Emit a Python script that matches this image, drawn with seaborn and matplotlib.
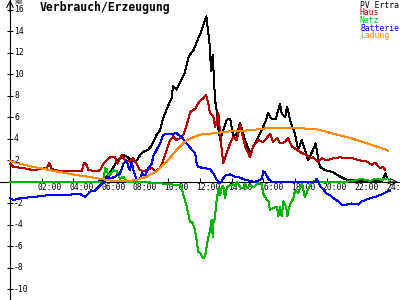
import numpy as np
import pandas as pd
import matplotlib
matplotlib.use("Agg")
import matplotlib.pyplot as plt
import seaborn as sns

# ---------------- data (hours, kW) ----------------
pv_t = [0.0, 5.5, 5.9, 6.3, 6.7, 7.15, 7.45, 7.68, 8.0, 8.21, 8.4, 8.72, 8.95, 9.26, 9.48, 9.64,
        9.9, 10.2, 10.3, 10.5, 11.0, 11.3, 11.6, 11.9, 12.0, 12.4, 12.6, 12.7, 12.8, 12.95, 13.05,
        13.15, 13.27, 13.43, 13.7, 13.9, 14.1, 14.33, 14.53, 14.84, 15.16, 15.48, 15.79, 16.1, 16.3,
        16.5, 16.8, 17.05, 17.15, 17.37, 17.5, 17.73, 18.0, 18.2, 18.43, 18.63, 18.82, 19.14, 19.3,
        19.4, 19.58, 19.9, 20.4, 20.85, 21.27, 22.0, 23.0, 23.5, 23.7, 23.8]
pv_v = [0.0, 0.0, 0.2, 0.8, 1.8, 2.5, 2.3, 1.9, 2.0, 2.5, 2.8, 3.0, 3.4, 4.4, 4.8, 5.8,
        6.8, 7.8, 8.9, 8.6, 10.0, 11.7, 12.3, 13.4, 13.7, 15.4, 12.9, 10.3, 11.8, 7.6, 6.7,
        5.1, 3.9, 4.7, 5.8, 5.9, 4.2, 4.5, 5.5, 3.9, 2.7, 3.6, 4.5, 5.5, 6.4,
        5.9, 5.9, 7.3, 6.4, 6.0, 7.0, 5.5, 4.5, 3.0, 3.9, 3.0, 2.0, 3.0, 3.6,
        2.7, 1.4, 1.1, 0.9, 0.5, 0.2, 0.1, 0.05, 0.1, 0.8, 0.4]

haus_t = [0.0, 0.21, 0.84, 1.45, 2.32, 2.48, 2.63, 3.16, 4.0, 4.53, 4.67, 4.8, 4.95, 5.48, 5.69,
          5.9, 6.11, 6.32, 6.63, 6.78, 6.95, 7.06, 7.26, 7.58, 7.77, 8.0, 8.21, 8.42, 8.64, 8.95,
          9.16, 9.48, 9.68, 9.9, 10.1, 10.32, 10.53, 10.74, 10.95, 11.16, 11.37, 11.69, 11.96,
          12.21, 12.38, 12.53, 12.63, 12.84, 12.95, 13.16, 13.27, 13.37, 13.47, 13.69, 13.9,
          14.09, 14.32, 14.53, 14.85, 15.16, 15.35, 15.67, 15.98, 16.22, 16.42, 16.61, 16.85,
          17.06, 17.37, 17.56, 17.8, 18.11, 18.43, 18.74, 18.95, 19.14, 19.46, 19.69, 20.0,
          20.4, 20.85, 21.27, 21.67, 22.1, 22.53, 22.85, 23.06, 23.37, 23.58, 23.69]
haus_v = [1.7, 1.4, 1.3, 1.1, 1.3, 1.8, 1.2, 1.0, 1.0, 1.0, 1.8, 1.7, 1.1, 1.0, 1.1,
          1.7, 2.0, 2.3, 2.3, 1.7, 2.2, 2.5, 2.0, 1.9, 2.2, 1.7, 1.1, 1.0, 1.1, 1.3,
          1.0, 1.3, 2.0, 3.0, 3.9, 4.2, 3.9, 4.1, 4.4, 5.3, 6.5, 6.8, 7.5,
          7.8, 8.1, 7.3, 6.4, 6.1, 5.1, 6.4, 4.5, 3.0, 1.8, 2.7, 3.6,
          4.2, 3.9, 5.3, 3.3, 2.3, 3.3, 3.9, 3.7, 4.1, 4.5, 3.7, 4.1,
          3.6, 3.7, 4.1, 3.3, 3.0, 2.7, 2.5, 2.2, 2.3, 1.9, 2.2, 2.0,
          2.2, 2.3, 2.2, 2.2, 2.0, 1.9, 1.6, 1.8, 1.3, 1.4, 1.1]

netz_t = [0.0, 5.6, 5.9, 6.0, 6.11, 6.21, 6.53, 6.74, 6.95, 7.16, 7.37, 8.5, 9.26, 10.1, 10.53,
          10.74, 10.85, 10.95, 11.05, 11.16, 11.37, 11.54, 11.69, 11.8, 11.9, 12.0, 12.2, 12.32,
          12.42, 12.53, 12.63, 12.74, 12.8, 12.84, 12.95, 13.01, 13.06, 13.16, 13.27, 13.37,
          13.47, 13.58, 13.69, 13.9, 14.1, 14.2, 14.33, 14.53, 14.74, 14.85, 14.95, 15.16, 15.37,
          15.69, 15.9, 16.0, 16.22, 16.32, 16.42, 16.63, 16.85, 16.95, 17.05, 17.16, 17.27, 17.44,
          17.52, 17.58, 17.69, 17.9, 18.0, 18.2, 18.43, 18.63, 18.85, 19.06, 19.27, 19.37, 19.48,
          20.0, 21.5, 22.2, 22.4, 22.8, 23.06, 23.5, 23.7, 24.0]
netz_v = [0.0, 0.0, 0.0, 1.3, 1.2, 0.5, 1.1, 1.0, 0.3, 0.5, 0.0, 0.0, -0.1, -0.2, -0.3,
          -0.3, -0.6, -1.2, -1.7, -2.3, -3.7, -3.8, -4.5, -5.6, -6.5, -6.6, -7.1, -6.9,
          -6.0, -5.1, -4.5, -3.5, -5.1, -3.8, -3.4, -2.0, -1.7, -0.6, -1.2, -0.5,
          -0.4, -1.5, -0.5, -0.3, -0.2, -0.4, 0.0, -0.5, -0.6, -0.2, -0.6, -0.3, -0.5,
          -0.1, -0.2, -1.1, -1.7, -1.8, -2.6, -2.4, -2.3, -3.2, -2.3, -3.2, -1.8, -2.3,
          -3.2, -2.6, -2.1, -1.5, -0.8, -1.0, -0.2, -1.4, -0.6, 0.0, 0.1, 0.3, 0.0,
          0.0, 0.05, 0.3, 0.2, 0.1, 0.3, 0.2, 0.3, 0.2]

batt_t = [0.0, 0.21, 0.63, 1.47, 2.53, 3.58, 4.42, 4.74, 5.05, 5.37, 5.69, 5.9, 6.21, 6.32, 6.63,
          6.95, 7.16, 7.37, 7.48, 7.58, 7.68, 7.79, 8.0, 8.21, 8.32, 8.53, 8.74, 8.95, 9.05, 9.26,
          9.48, 9.68, 10.0, 10.32, 10.48, 10.63, 10.85, 11.05, 11.26, 11.48, 11.69, 11.8, 11.9,
          12.21, 12.63, 12.84, 13.06, 13.27, 13.37, 13.58, 13.9, 14.2, 14.53, 14.85, 15.16, 15.48,
          15.9, 16.0, 16.1, 16.32, 16.53, 19.27, 19.37, 19.48, 19.58, 19.79, 20.0, 20.21, 20.42,
          20.64, 20.95, 21.27, 21.58, 22.0, 22.22, 22.42, 22.74, 23.06, 23.37, 23.58, 23.79, 24.0]
batt_v = [-1.5, -1.7, -1.5, -1.4, -1.2, -1.2, -1.1, -1.4, -0.9, -0.8, -0.3, 0.0, 0.5, 0.3, 0.5,
          0.8, 1.7, 2.0, 1.4, 1.1, 1.9, 1.1, 0.2, 0.3, 0.8, 0.5, 1.3, 1.7, 2.4, 3.0,
          3.6, 4.4, 4.5, 4.4, 4.6, 4.4, 4.2, 3.75, 3.4, 3.0, 2.7, 1.6, 1.4,
          1.3, 1.2, 0.8, 0.2, -0.1, 0.1, 0.6, 0.7, 0.5, 0.4, 0.2, 0.1, 0.0,
          0.3, 1.0, 0.9, 0.3, 0.0, 0.0, 0.3, 0.0, -0.4, -0.7, -1.1, -1.2, -1.5,
          -1.7, -2.1, -2.1, -2.0, -2.1, -1.8, -1.7, -1.5, -1.4, -1.2, -1.1, -0.9, -0.8]

ladung_t = [0.0, 1.47, 2.53, 3.58, 4.63, 5.69, 6.53, 7.37, 8.0, 8.64, 9.26, 9.9, 10.53, 11.16,
            12.0, 13.27, 14.1, 15.16, 16.22, 17.27, 18.32, 19.37, 20.42, 21.48, 22.53, 23.58, 23.9]
ladung_v = [1.95, 1.4, 1.1, 0.8, 0.55, 0.3, 0.1, 0.05, 0.2, 0.5, 1.0, 1.9, 3.0, 3.9,
            4.4, 4.6, 4.75, 4.8, 5.0, 5.0, 5.0, 4.9, 4.5, 4.1, 3.6, 3.1, 2.9]

series_names = ["PV Ertra", "Haus", "Netz", "Batterie", "Ladung"]
series_colors = ["#000000", "#b40000", "#00b400", "#0000f0", "#ff8c00"]

y_ticks = [-10, -8, -6, -4, -2, 2, 4, 6, 8, 10, 12, 14, 16]
x_ticks = [2, 4, 6, 8, 10, 12, 14, 16, 18, 20, 22, 24]
x_labels = ["02:00", "04:00", "06:00", "08:00", "10:00", "12:00", "14:00",
            "16:00", "18:00", "20:00", "22:00", "24:00"]

title = "Verbrauch/Erzeugung"
unit = "kW"

# ---------------- build frame ----------------
frames = []
for name, t, v in zip(series_names,
                      [pv_t, haus_t, netz_t, batt_t, ladung_t],
                      [pv_v, haus_v, netz_v, batt_v, ladung_v]):
    frames.append(pd.DataFrame({"h": t, "kW": v, "serie": name}))
df = pd.concat(frames, ignore_index=True)

sns.set_theme(style="white")
plt.rcParams["font.family"] = ["DejaVu Sans Mono", "DejaVu Sans"]

fig = plt.figure(figsize=(4, 3), dpi=100, facecolor="white")
ax = fig.add_axes([0, 0, 1, 1])
ax.set_facecolor("white")

for name, col in zip(series_names, series_colors):
    sub = df[df["serie"] == name]
    sns.lineplot(data=sub, x="h", y="kW", color=col, linewidth=0.72,
                 estimator=None, sort=False, ax=ax, legend=False, antialiased=False)

ax.set_xlim(-0.632, 24.63)
ax.set_ylim(-10.98, 16.93)

# axes through the origin
for s in ["top", "right"]:
    ax.spines[s].set_visible(False)
ax.spines["left"].set_position(("data", 0))
ax.spines["bottom"].set_position(("data", 0))
for s in ["left", "bottom"]:
    ax.spines[s].set_color("black")
    ax.spines[s].set_linewidth(0.8)
    ax.spines[s].set_zorder(0.5)
ax.set_axisbelow(True)

ax.set_yticks(y_ticks)
ax.set_yticklabels([])
ax.set_xticks(x_ticks)
ax.set_xticklabels([])
ax.tick_params(axis="y", direction="inout", length=4.3, width=0.72, color="black", left=True)
ax.tick_params(axis="x", direction="in", length=3.0, width=0.72, color="black", bottom=True)
ax.set_xlabel("")
ax.set_ylabel("")
ax.grid(False)

fs_small = 5.8
for v in y_ticks:
    ax.annotate(str(v), xy=(0, v), xytext=(4, 0), textcoords="offset pixels",
                ha="left", va="center", fontsize=fs_small, color="black")
for t, lbl in zip(x_ticks, x_labels):
    ax.annotate(lbl, xy=(t, 0), xytext=(-4, -6), textcoords="offset pixels",
                ha="left", va="center", fontsize=fs_small, color="black", zorder=1)

# arrows
ax.annotate("", xy=(0, 1.0), xycoords=("data", "axes fraction"),
            xytext=(0, 0.96), textcoords=("data", "axes fraction"),
            arrowprops=dict(arrowstyle="->", color="black", lw=0.72, shrinkA=0, shrinkB=0))
ax.annotate("", xy=(0.995, 0), xycoords=("axes fraction", "data"),
            xytext=(0.97, 0), textcoords=("axes fraction", "data"),
            arrowprops=dict(arrowstyle="->", color="black", lw=0.72, shrinkA=0, shrinkB=0))

ax.annotate(unit, xy=(0, 1.0), xycoords=("data", "axes fraction"), xytext=(4, -2),
            textcoords="offset pixels", ha="left", va="center", fontsize=4.8)

fig.text(40 / 400, 1 - 7 / 300, title, ha="left", va="center", fontsize=8.3,
         fontweight="bold", color="black")

leg_y = [5, 12.7, 20.5, 28.3, 36]
for name, col, yy in zip(series_names, series_colors, leg_y):
    fig.text(360 / 400, 1 - yy / 300, name, ha="left", va="center",
             fontsize=fs_small, color=col)

fig.savefig("out.png", dpi=100, facecolor="white")
